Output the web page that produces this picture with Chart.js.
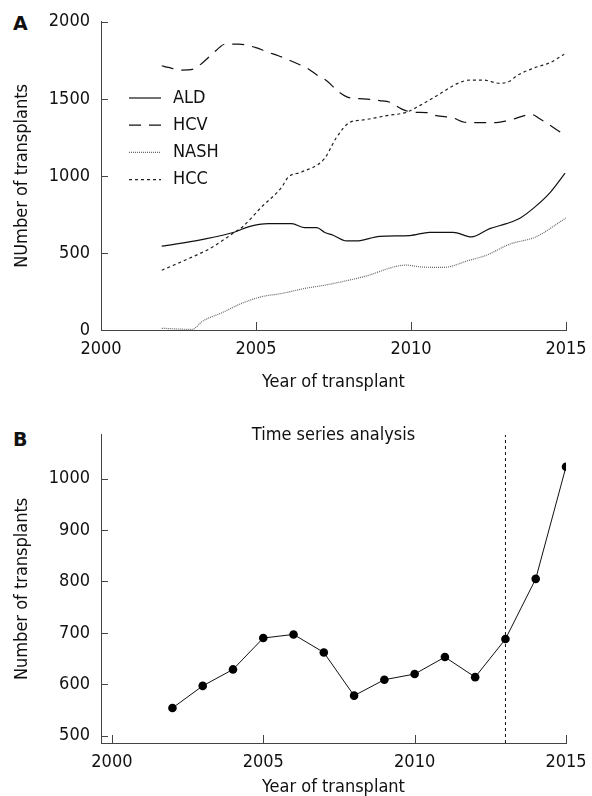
<!DOCTYPE html>
<html>
<head>
<meta charset="utf-8">
<script src="https://cdn.jsdelivr.net/npm/chart.js@4.4.0/dist/chart.umd.min.js"></script>
<style>
  html, body { margin: 0; padding: 0; background: #fff; }
  body { width: 592px; height: 796px; position: relative; overflow: hidden; }
  canvas { position: absolute; left: 0; }
  #chartA { top: 0; }
  #chartB { top: 413px; }
  .tag { position: absolute; left: 13px; font: bold 19px/19px 'DejaVu Sans', sans-serif; color: #111; }
</style>
</head>
<body>
<div class="tag" style="top:14px">A</div>
<div class="tag" style="top:430px">B</div>
<canvas id="chartA" width="592" height="400"></canvas>
<canvas id="chartB" width="592" height="400"></canvas>
<script>
// Panel A: transplants by indication
const aldYears   = [2001.96, 2003.25, 2004.32, 2004.75, 2005.4, 2006.15, 2006.58, 2006.96, 2007.22, 2007.49, 2007.92, 2008.24, 2008.99, 2009.96, 2010.6, 2011.36, 2011.95, 2012.54, 2013.08, 2013.54, 2014.02, 2014.5, 2014.97];
const aldCounts  = [544, 587, 636, 669, 690, 690, 664, 664, 633, 615, 578, 578, 608, 613, 634, 634, 604, 658, 690, 729, 802, 895, 1018];

const hcvYears   = [2001.96, 2002.17, 2002.6, 2002.98, 2003.25, 2003.73, 2004.0, 2004.43, 2004.97, 2005.4, 2005.72, 2006.36, 2006.69, 2007.0, 2007.28, 2007.65, 2007.97, 2008.46, 2008.99, 2009.32, 2009.69, 2010.07, 2010.5, 2010.82, 2011.36, 2011.73, 2012.11, 2012.75, 2013.13, 2013.9, 2014.14, 2014.94];
const hcvCounts  = [1715, 1704, 1687, 1693, 1730, 1817, 1855, 1855, 1834, 1801, 1780, 1726, 1694, 1650, 1618, 1549, 1510, 1500, 1489, 1478, 1435, 1413, 1411, 1391, 1376, 1348, 1346, 1346, 1359, 1398, 1372, 1268];

const nashYears  = [2001.96, 2002.93, 2003.3, 2003.9, 2004.54, 2005.18, 2005.83, 2006.58, 2007.22, 2008.46, 2009.85, 2010.28, 2011.03, 2011.89, 2012.43, 2013.18, 2014.02, 2015.0];
const nashCounts = [11, 4, 60, 112, 173, 216, 237, 270, 291, 345, 421, 410, 406, 453, 485, 557, 604, 727];

const hccYears   = [2001.96, 2002.71, 2003.57, 2004.32, 2004.54, 2005.18, 2005.83, 2006.04, 2006.47, 2007.2, 2007.6, 2008.03, 2008.46, 2009.21, 2009.85, 2010.28, 2010.93, 2011.47, 2011.89, 2012.32, 2012.86, 2013.18, 2013.41, 2014.02, 2014.5, 2014.94];
const hccCounts  = [388, 453, 535, 636, 665, 798, 927, 992, 1025, 1110, 1251, 1348, 1363, 1391, 1413, 1456, 1532, 1597, 1622, 1622, 1601, 1614, 1650, 1704, 1736, 1790];

// Panel B: yearly ALD transplants
const yearsB  = [2002, 2003, 2004, 2005, 2006, 2007, 2008, 2009, 2010, 2011, 2012, 2013, 2014, 2015];
const countsB = [554, 597, 629, 690, 697, 662, 578, 609, 620, 653, 614, 688, 805, 1023];
const breakYear = 2013;

// axes
const yearTicks   = [2000, 2005, 2010, 2015];
const countTicksA = [0, 500, 1000, 1500, 2000];
const countTicksB = [500, 600, 700, 800, 900, 1000];

const FONT = "'DejaVu Sans Condensed', 'DejaVu Sans', sans-serif";
Chart.defaults.font.family = FONT;
Chart.defaults.font.size = 18;
Chart.defaults.color = '#111';

const pairs = (xs, ys) => xs.map((x, i) => ({x: x, y: ys[i]}));

// short ticks pointing into the plot, plus the year labels under the x axis
const inwardTicks = {
  id: 'inwardTicks',
  afterDatasetsDraw(chart) {
    const {ctx, chartArea: a, scales} = chart;
    ctx.save();
    ctx.strokeStyle = '#444';
    ctx.lineWidth = 1;
    ctx.beginPath();
    scales.x.ticks.forEach(t => {
      const px = Math.round(scales.x.getPixelForValue(t.value)) + 0.5;
      ctx.moveTo(px, a.bottom);
      ctx.lineTo(px, a.bottom - 8);
    });
    scales.y.ticks.forEach(t => {
      const py = Math.round(scales.y.getPixelForValue(t.value)) + 0.5;
      ctx.moveTo(a.left, py);
      ctx.lineTo(a.left + 7, py);
    });
    ctx.stroke();
    ctx.fillStyle = '#111';
    ctx.font = '18px ' + FONT;
    ctx.textAlign = 'center';
    ctx.textBaseline = 'middle';
    scales.x.ticks.forEach(t => {
      ctx.fillText(String(t.value), scales.x.getPixelForValue(t.value), a.bottom + 19.8);
    });
    ctx.restore();
  }
};

// legend drawn inside panel A
const insideLegend = {
  id: 'insideLegend',
  afterDraw(chart) {
    const ctx = chart.ctx;
    chart.data.datasets.forEach((ds, i) => {
      const y = 98 + i * 27.2;
      ctx.save();
      ctx.strokeStyle = ds.borderColor;
      ctx.lineWidth = ds.borderWidth;
      ctx.setLineDash(ds.borderDash || []);
      ctx.beginPath();
      ctx.moveTo(129, y);
      ctx.lineTo(161, y);
      ctx.stroke();
      ctx.setLineDash([]);
      ctx.fillStyle = '#111';
      ctx.font = '18px ' + FONT;
      ctx.textBaseline = 'middle';
      ctx.fillText(ds.label, 173, y);
      ctx.restore();
    });
  }
};

const innerTitle = {
  id: 'innerTitle',
  afterDraw(chart, args, opts) {
    const ctx = chart.ctx, a = chart.chartArea;
    ctx.save();
    ctx.fillStyle = '#111';
    ctx.font = '18px ' + FONT;
    ctx.textAlign = 'center';
    ctx.textBaseline = 'middle';
    ctx.fillText(opts.text, (a.left + a.right) / 2, a.top + 1);
    ctx.restore();
  }
};

function axes(yMin, yMax, xMin, yTicks, yTitle, titleTop, titleBottom) {
  return {
    x: {
      type: 'linear', min: xMin, max: 2015,
      afterBuildTicks: s => { s.ticks = yearTicks.map(v => ({value: v})); },
      grid: {display: false, drawTicks: false},
      border: {display: true, color: '#444', width: 1},
      ticks: {display: false},
      title: {display: true, text: 'Year of transplant', padding: {top: titleTop, bottom: titleBottom}}
    },
    y: {
      type: 'linear', min: yMin, max: yMax,
      afterBuildTicks: s => { s.ticks = yTicks.map(v => ({value: v})); },
      afterFit: s => { s.width = 101; },
      grid: {display: false, drawTicks: false},
      border: {display: true, color: '#444', width: 1},
      ticks: {padding: 11, callback: v => String(v)},
      title: {display: true, text: yTitle, padding: {top: 12, bottom: 0}}
    }
  };
}

const lineStyle = (label, xs, ys, color, dash) => ({
  label: label,
  data: pairs(xs, ys),
  borderColor: color,
  borderWidth: 1.2,
  borderDash: dash,
  pointRadius: 0,
  fill: false,
  cubicInterpolationMode: 'monotone'
});

new Chart(document.getElementById('chartA'), {
  type: 'line',
  data: {
    datasets: [
      lineStyle('ALD', aldYears, aldCounts, '#111', []),
      lineStyle('HCV', hcvYears, hcvCounts, '#111', [12, 8]),
      lineStyle('NASH', nashYears, nashCounts, '#666', [1, 1]),
      lineStyle('HCC', hccYears, hccCounts, '#222', [3, 3])
    ]
  },
  options: {
    responsive: false,
    animation: false,
    layout: {padding: {left: 0, top: 21, right: 26, bottom: 0}},
    plugins: {legend: {display: false}, tooltip: {enabled: false}},
    scales: axes(0, 2000, 2000, countTicksA, 'NUmber of transplants', 41.4, 7)
  },
  plugins: [inwardTicks, insideLegend]
});

const yMinB = 486, yMaxB = 1085;

new Chart(document.getElementById('chartB'), {
  type: 'line',
  data: {
    datasets: [
      {
        label: 'ALD',
        data: pairs(yearsB, countsB),
        borderColor: '#111',
        borderWidth: 1,
        backgroundColor: '#000',
        pointRadius: 4.3,
        pointBorderWidth: 0,
        pointBackgroundColor: '#000',
        tension: 0
      },
      {
        label: 'break',
        data: [{x: breakYear, y: yMinB}, {x: breakYear, y: yMaxB}],
        borderColor: '#111',
        borderWidth: 1,
        borderDash: [3, 3],
        pointRadius: 0
      }
    ]
  },
  options: {
    responsive: false,
    animation: false,
    layout: {padding: {left: 0, top: 20, right: 26, bottom: 0}},
    plugins: {
      legend: {display: false},
      tooltip: {enabled: false},
      innerTitle: {text: 'Time series analysis'}
    },
    scales: axes(yMinB, yMaxB, 1999.64, countTicksB, 'Number of transplants', 33.4, 15)
  },
  plugins: [inwardTicks, innerTitle]
});
</script>
</body>
</html>
